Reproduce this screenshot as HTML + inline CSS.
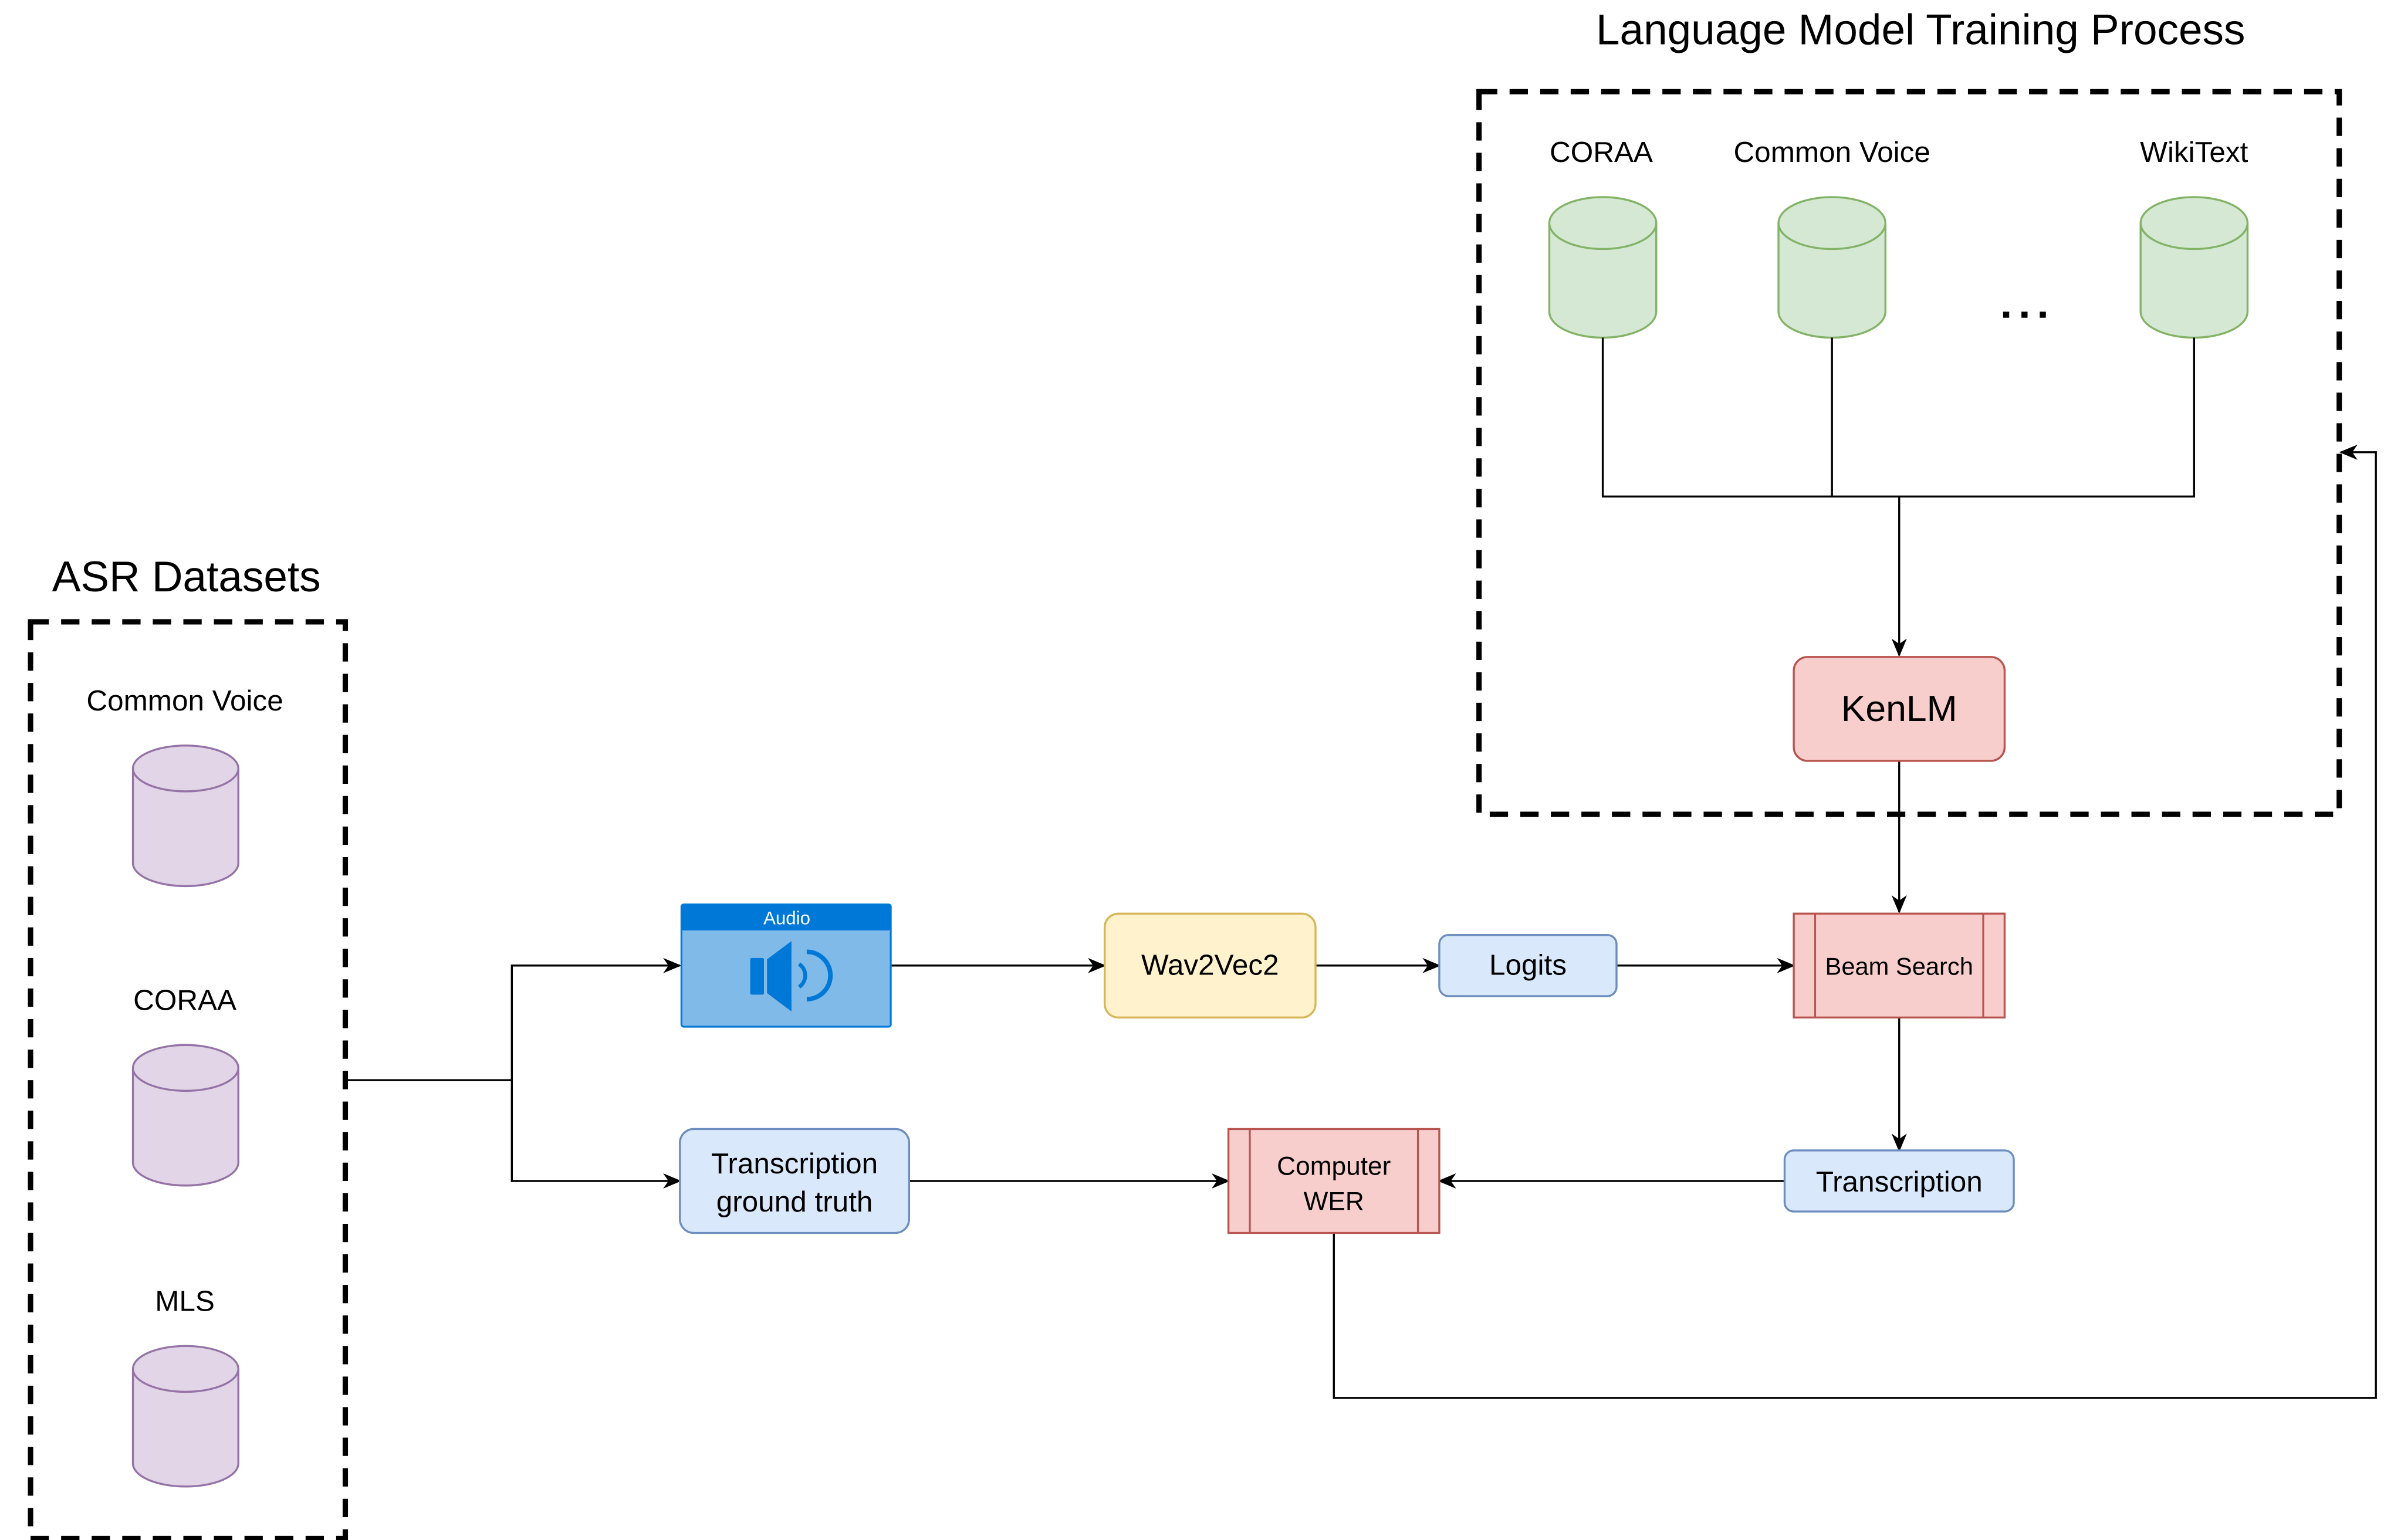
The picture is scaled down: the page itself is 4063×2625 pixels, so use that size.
<!DOCTYPE html>
<html><head><meta charset="utf-8"><style>html,body{margin:0;padding:0;background:#fff}svg{display:block}text{font-family:"Liberation Sans",Arial,sans-serif;fill:#000}</style></head>
<body>
<svg width="4063" height="2625" viewBox="0 0 1560.3 1008" preserveAspectRatio="none" xmlns="http://www.w3.org/2000/svg">
<defs>
<marker id="a" markerWidth="14" markerHeight="14" refX="11" refY="7" orient="auto" markerUnits="userSpaceOnUse" viewBox="0 0 14 14"><path d="M0,2 L12,7 L0,12 L3.5,7 Z" fill="#000"/></marker>
<g id="cylP"><path d="M0,15 L0,77 A34.5,15 0 0 0 69,77 L69,15" fill="#e1d5e7" stroke="#9673a6" stroke-width="1.3"/><ellipse cx="34.5" cy="15" rx="34.5" ry="15" fill="#e1d5e7" stroke="#9673a6" stroke-width="1.3"/></g>
<g id="cylG"><path d="M0,17 L0,75 A35,17 0 0 0 70,75 L70,17" fill="#d5e8d4" stroke="#82b366" stroke-width="1.3"/><ellipse cx="35" cy="17" rx="35" ry="17" fill="#d5e8d4" stroke="#82b366" stroke-width="1.3"/></g>
</defs>
<rect width="1560.3" height="1008" fill="#fff"/>
<text x="122" y="387" font-size="28" text-anchor="middle">ASR Datasets</text>
<rect x="20" y="407" width="206" height="600" fill="none" stroke="#000" stroke-width="3.5" stroke-dasharray="12,8"/>
<text x="121" y="465" font-size="19" text-anchor="middle">Common Voice</text>
<use href="#cylP" x="87" y="488"/>
<text x="121" y="661" font-size="19" text-anchor="middle">CORAA</text>
<use href="#cylP" x="87" y="684"/>
<text x="121" y="858" font-size="19" text-anchor="middle">MLS</text>
<use href="#cylP" x="87" y="881"/>
<text x="1257" y="29" font-size="28" text-anchor="middle">Language Model Training Process</text>
<rect x="968" y="60" width="563" height="473" fill="none" stroke="#000" stroke-width="3.5" stroke-dasharray="12,8"/>
<text x="1048" y="106" font-size="19" text-anchor="middle">CORAA</text>
<text x="1199" y="106" font-size="19" text-anchor="middle">Common Voice</text>
<text x="1436" y="106" font-size="19" text-anchor="middle">WikiText</text>
<use href="#cylG" x="1014" y="129"/>
<use href="#cylG" x="1164" y="129"/>
<use href="#cylG" x="1401" y="129"/>
<g fill="#000"><rect x="1311" y="204" width="4" height="4"/><rect x="1323" y="204" width="4" height="4"/><rect x="1335" y="204" width="4" height="4"/></g>
<g fill="none" stroke="#000" stroke-width="1.3">
<path d="M1049,221 V325 H1436 V221 M1199,221 V325"/>
<path d="M1243,325 V429" marker-end="url(#a)"/>
<path d="M1243,498 V597" marker-end="url(#a)"/>
<path d="M226,707 H335 V632 H445" marker-end="url(#a)"/>
<path d="M335,707 V773 H445" marker-end="url(#a)"/>
<path d="M583,632 H723" marker-end="url(#a)"/>
<path d="M861,632 H942" marker-end="url(#a)"/>
<path d="M1058,632 H1174" marker-end="url(#a)"/>
<path d="M1243,666 V753" marker-end="url(#a)"/>
<path d="M1168,773 H942" marker-end="url(#a)"/>
<path d="M595,773 H804" marker-end="url(#a)"/>
<path d="M873,807 V915 H1555 V296 H1532" marker-end="url(#a)"/>
</g>
<rect x="446" y="592" width="137" height="80" rx="1.5" fill="#7fbae8" stroke="#0078d7" stroke-width="1.2"/>
<rect x="446" y="592" width="137" height="17" rx="1.5" fill="#0078d7"/>
<text x="515" y="605" font-size="12" text-anchor="middle" style="fill:#fff">Audio</text>
<rect x="491" y="627" width="9" height="24" rx="1" fill="#0078d7"/>
<path d="M502,628 L518,616 L518,662 L502,650 Z" fill="#0078d7"/>
<path d="M523,631 A9,9 0 0 1 523,646" fill="none" stroke="#0078d7" stroke-width="2.5"/>
<path d="M528,623 A15,15 0 0 1 528,654" fill="none" stroke="#0078d7" stroke-width="3"/>
<rect x="723" y="598" width="138" height="68" rx="9" fill="#fff2cc" stroke="#d6b656" stroke-width="1.3"/>
<text x="792" y="638" font-size="19" text-anchor="middle">Wav2Vec2</text>
<rect x="942" y="612" width="116" height="40" rx="6" fill="#dae8fc" stroke="#6c8ebf" stroke-width="1.3"/>
<text x="1000" y="638" font-size="19" text-anchor="middle">Logits</text>
<rect x="1174" y="598" width="138" height="68" fill="#f8cecc" stroke="#b85450" stroke-width="1.3"/>
<path d="M1188,598 V666 M1298,598 V666" stroke="#b85450" stroke-width="1.2"/>
<text x="1243" y="638" font-size="16" text-anchor="middle">Beam Search</text>
<rect x="1174" y="430" width="138" height="68" rx="9" fill="#f8cecc" stroke="#b85450" stroke-width="1.3"/>
<text x="1243" y="472" font-size="24" text-anchor="middle">KenLM</text>
<rect x="1168" y="753" width="150" height="40" rx="6" fill="#dae8fc" stroke="#6c8ebf" stroke-width="1.3"/>
<text x="1243" y="780" font-size="19" text-anchor="middle">Transcription</text>
<rect x="804" y="739" width="138" height="68" fill="#f8cecc" stroke="#b85450" stroke-width="1.3"/>
<path d="M818,739 V807 M928,739 V807" stroke="#b85450" stroke-width="1.2"/>
<text x="873" y="769" font-size="17" text-anchor="middle">Computer</text>
<text x="873" y="792" font-size="17" text-anchor="middle">WER</text>
<rect x="445" y="739" width="150" height="68" rx="9" fill="#dae8fc" stroke="#6c8ebf" stroke-width="1.3"/>
<text x="520" y="768" font-size="19" text-anchor="middle">Transcription</text>
<text x="520" y="793" font-size="19" text-anchor="middle">ground truth</text>
</svg>
</body></html>
